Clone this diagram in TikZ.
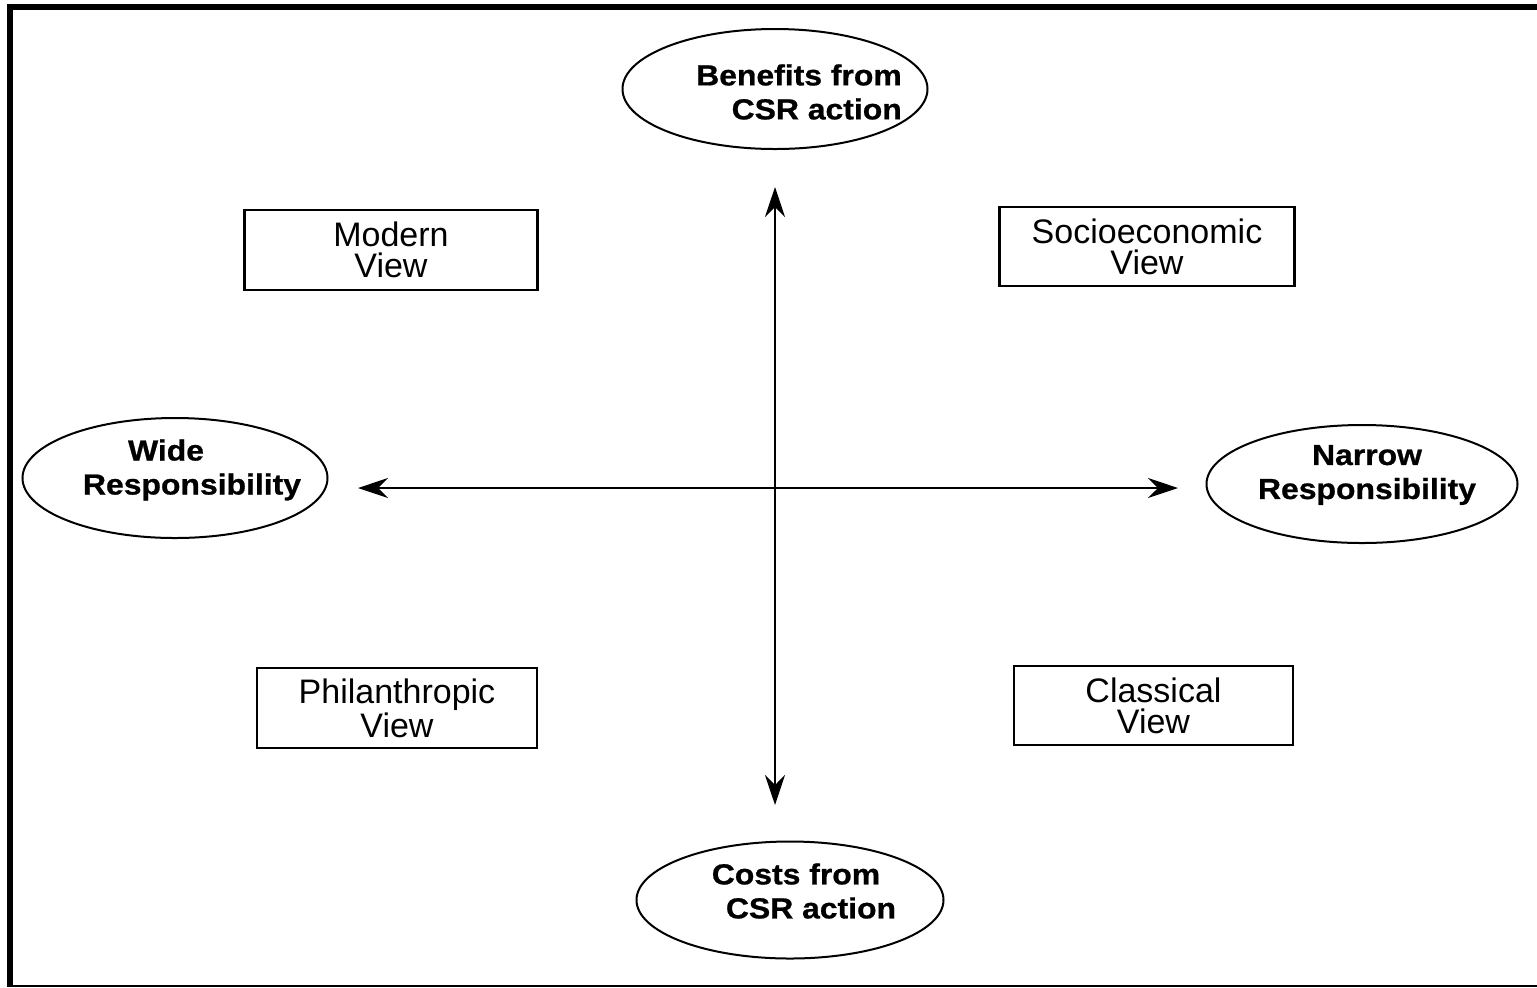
\documentclass[tikz,border=0pt]{standalone}
\usepackage{fontspec}
\setmainfont{Liberation Sans}
\newfontfamily\ellfont[FakeStretch=1.1,FakeBold=0.8]{Liberation Sans}
\usetikzlibrary{arrows.meta,shapes.geometric}
\tikzset{
  ell/.style={draw,ellipse,line width=1pt,inner sep=0pt},
  elltext/.style={font=\ellfont\bfseries\fontsize{14.5pt}{17pt}\selectfont,inner sep=0pt},
  viewbox/.style={draw,rectangle,line width=1.2pt,inner sep=0pt,align=center,
    font=\fontsize{17pt}{15.5pt}\selectfont},
  axis/.style={line width=1.4pt,{Stealth[length=15pt,width=10pt,inset=5pt]}-{Stealth[length=15pt,width=10pt,inset=5pt]}}
}
\begin{document}
\begin{tikzpicture}[x=0.5pt,y=-0.5pt]
\useasboundingbox (0,0) rectangle (1537,987);
% frame
\draw[line width=3pt] (7,7) -- (1537,7);
\draw[line width=3pt] (10,4) -- (10,987);
\draw[line width=1pt] (7,985.5) -- (1537,985.5);
% ellipses
\node[ell,minimum width=152.5pt,minimum height=60pt] (ben) at (775,89) {};
\node[elltext,align=right] (bent) at (799,92) {Benefits from\\CSR action};
\node[ell,minimum width=153.5pt,minimum height=58.5pt] (cost) at (790,900) {};
\node[elltext,align=center] (costt) at (811,891) {Costs from\hspace*{15pt}\\CSR action};
\node[ell,minimum width=152.5pt,minimum height=60pt] (wide) at (175,478) {};
\node[elltext,align=center] (widet) at (192,470) {Wide\hspace*{26pt}\\Responsibility};
\node[ell,minimum width=155.5pt,minimum height=59pt] (narrow) at (1362,484) {};
\node[elltext,align=center] (narrowt) at (1367,475) {Narrow\\Responsibility};
% boxes
\node[viewbox,minimum width=146.5pt,minimum height=40pt] (modern) at (391,250) {Modern\\View};
\node[viewbox,minimum width=147.5pt,minimum height=39.5pt] (socio) at (1147,246.5) {Socioeconomic\\View};
\node[viewbox,minimum width=140pt,minimum height=40pt] (phil) at (397,708) {Philanthropic\\View};
\node[viewbox,minimum width=139.5pt,minimum height=39.5pt] (class) at (1153.5,705.5) {Classical\\View};
% axes
\coordinate (vtop) at (775,187);
\coordinate (vbot) at (775,805);
\coordinate (hleft) at (358,488);
\coordinate (hright) at (1178,488);
\draw[axis] (vtop) -- (vbot);
\draw[axis] (hleft) -- (hright);
\end{tikzpicture}
\end{document}
